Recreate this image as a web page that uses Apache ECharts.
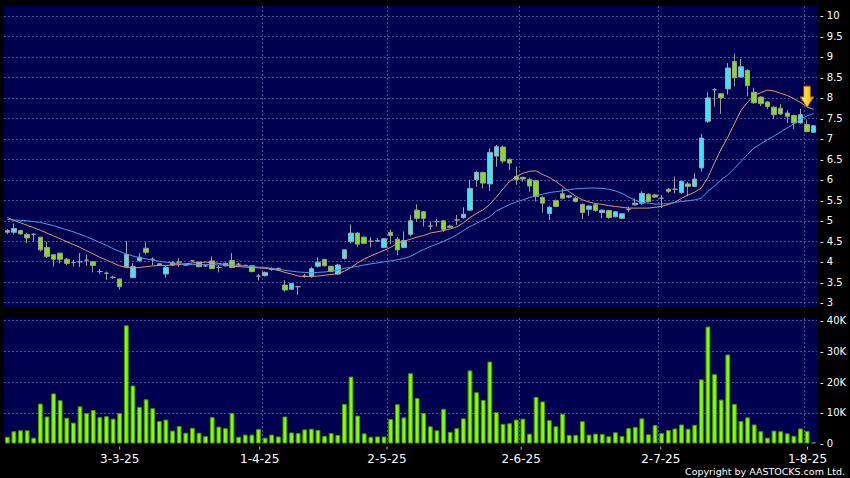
<!DOCTYPE html>
<html><head><meta charset="utf-8">
<script src="https://cdn.jsdelivr.net/npm/echarts@6.0.0/dist/echarts.min.js"></script>
<style>html,body{margin:0;padding:0;background:#000;}#c{width:850px;height:478px;}</style>
</head><body><div id="c"></div>
<script>
// ---------- DATA ----------
const dates = ['5-2-25','6-2-25','7-2-25','10-2-25','11-2-25','12-2-25','13-2-25','14-2-25','17-2-25','18-2-25','19-2-25','20-2-25','21-2-25','24-2-25','25-2-25','26-2-25','27-2-25','28-2-25',
'3-3-25','4-3-25','5-3-25','6-3-25','7-3-25','10-3-25','11-3-25','12-3-25','13-3-25','14-3-25','17-3-25','18-3-25','19-3-25','20-3-25','21-3-25','24-3-25','25-3-25','26-3-25','27-3-25','28-3-25','31-3-25',
'1-4-25','2-4-25','3-4-25','7-4-25','8-4-25','9-4-25','10-4-25','11-4-25','14-4-25','15-4-25','16-4-25','17-4-25','22-4-25','23-4-25','24-4-25','25-4-25','28-4-25','29-4-25','30-4-25',
'2-5-25','6-5-25','7-5-25','8-5-25','9-5-25','12-5-25','13-5-25','14-5-25','15-5-25','16-5-25','19-5-25','20-5-25','21-5-25','22-5-25','23-5-25','26-5-25','27-5-25','28-5-25','29-5-25','30-5-25',
'2-6-25','3-6-25','4-6-25','5-6-25','6-6-25','9-6-25','10-6-25','11-6-25','12-6-25','13-6-25','16-6-25','17-6-25','18-6-25','19-6-25','20-6-25','23-6-25','24-6-25','25-6-25','26-6-25','27-6-25','30-6-25',
'2-7-25','3-7-25','4-7-25','7-7-25','8-7-25','9-7-25','10-7-25','11-7-25','14-7-25','15-7-25','16-7-25','17-7-25','18-7-25','21-7-25','22-7-25','23-7-25','24-7-25','25-7-25','28-7-25','29-7-25','30-7-25','31-7-25',
'1-8-25','4-8-25'];

const tickLabels = ['3-3-25','1-4-25','2-5-25','2-6-25','2-7-25','1-8-25'];

const opens = [4.76,4.72,4.76,4.67,4.67,4.60,4.35,4.17,4.21,4.06,
3.98,4.00,4.04,4.00,3.76,3.72,3.62,3.58,3.88,3.61,
4.03,4.33,4.06,3.95,3.70,3.98,3.99,3.92,4.02,3.99,
3.90,4.02,3.86,3.90,4.03,3.94,3.91,3.90,3.65,3.66,
3.82,3.84,3.43,3.33,3.39,3.65,3.65,3.89,4.06,3.89,
3.70,4.08,4.49,4.70,4.60,4.50,4.52,4.35,4.72,4.55,
4.35,4.67,5.26,5.22,4.87,4.98,5.00,4.87,5.02,5.08,
5.26,6.00,6.18,5.90,6.58,6.80,6.50,6.08,6.06,6.01,
5.98,5.57,5.18,5.49,5.66,5.58,5.55,5.40,5.28,5.39,
5.20,5.25,5.10,5.06,5.28,5.39,5.43,5.65,5.63,5.55,
5.77,5.77,5.69,5.90,5.84,6.29,7.43,8.20,8.10,8.22,
8.89,8.51,8.67,8.14,8.02,7.90,7.77,7.75,7.63,7.57,
7.39,7.35,7.16];

const closes = [4.72,4.81,4.68,4.58,4.67,4.29,4.13,4.06,4.06,3.96,
3.98,4.00,4.04,3.91,3.76,3.72,3.62,3.39,4.18,3.88,
4.11,4.23,4.06,3.92,3.86,3.92,3.99,3.92,4.02,3.88,
3.90,3.83,3.86,3.96,3.86,3.94,3.91,3.76,3.65,3.74,
3.82,3.80,3.31,3.47,3.39,3.65,3.83,3.99,3.90,3.76,
3.92,4.29,4.70,4.43,4.45,4.50,4.50,4.56,4.64,4.29,
4.52,5.00,5.06,5.06,4.87,4.98,4.79,4.84,5.02,5.16,
5.79,6.18,5.92,6.67,6.81,6.46,6.41,6.00,6.02,5.85,
5.59,5.43,5.33,5.35,5.55,5.61,5.47,5.20,5.36,5.25,
5.26,5.08,5.22,5.17,5.28,5.43,5.67,5.47,5.58,5.55,
5.72,5.77,5.96,5.84,6.02,7.02,8.00,8.20,8.00,8.73,
8.49,8.76,8.30,7.88,7.86,7.79,7.59,7.61,7.55,7.39,
7.59,7.18,7.32];

const lows = [4.67,4.67,4.66,4.45,4.49,4.25,4.09,3.88,3.96,3.92,
3.88,3.87,3.90,3.74,3.70,3.56,3.58,3.32,3.84,3.61,
4.00,4.18,3.92,3.90,3.61,3.90,3.88,3.90,4.00,3.86,
3.87,3.83,3.74,3.88,3.84,3.87,3.89,3.74,3.54,3.64,
3.78,3.78,3.27,3.31,3.19,3.61,3.61,3.86,3.89,3.75,
3.68,4.05,4.45,4.36,4.43,4.35,4.48,4.33,4.43,4.16,
4.35,4.62,4.98,4.86,4.78,4.86,4.73,4.82,4.90,5.05,
5.24,5.83,5.79,5.73,6.32,6.40,6.24,5.88,5.95,5.71,
5.47,5.20,5.02,5.33,5.52,5.55,5.45,5.04,5.12,5.22,
5.06,5.05,5.08,5.04,5.22,5.37,5.39,5.45,5.55,5.31,
5.68,5.67,5.65,5.60,5.82,6.20,7.39,7.79,7.61,8.08,
8.28,8.49,8.04,7.86,7.80,7.73,7.48,7.58,7.39,7.24,
7.37,7.16,7.15];

const highs = [4.80,4.93,4.78,4.70,4.70,4.60,4.49,4.18,4.22,4.09,
4.05,4.21,4.17,4.00,3.82,3.76,3.66,3.58,4.51,3.96,
4.21,4.48,4.11,3.97,3.90,4.02,4.09,3.95,4.04,4.00,
3.93,4.13,3.92,3.98,4.21,3.98,3.93,3.91,3.70,3.76,
3.86,3.86,3.55,3.48,3.41,3.70,3.87,4.11,4.06,3.90,
3.95,4.31,4.91,4.72,4.62,4.60,4.58,4.58,4.79,4.60,
4.74,5.14,5.40,5.24,4.98,5.04,5.02,4.90,5.14,5.33,
6.00,6.22,6.20,6.77,6.85,6.84,6.52,6.32,6.08,6.05,
6.00,5.60,5.36,5.52,5.79,5.63,5.58,5.42,5.38,5.42,
5.28,5.27,5.24,5.19,5.34,5.55,5.72,5.67,5.66,5.63,
5.80,6.08,5.98,5.95,6.16,7.12,8.14,8.24,8.12,8.85,
9.08,8.95,8.70,8.25,8.04,7.92,7.80,7.85,7.70,7.59,
7.73,7.47,7.34];

const volumes = [2200,4000,4300,4300,1900,13000,8800,16300,14100,8400,
6800,12100,9900,10900,8600,8900,8100,9900,38500,18900,
11900,14400,11500,7300,7800,4200,5700,3500,5100,3500,
2400,8600,5500,5000,10000,2200,2900,2900,4700,1900,
2900,2300,8800,3600,3400,4600,4800,4400,2500,3400,
2800,12900,21800,9100,3300,2200,2300,2300,8000,12800,
8500,22900,14800,10000,5600,4300,11300,3800,5000,8200,
23800,16700,14200,26700,10200,6400,6600,7800,8100,3200,
15200,13700,7600,5600,9700,2800,2800,7300,2900,3200,
3100,2350,3650,2400,5000,5400,8200,3000,6000,3400,
4400,4900,6200,4800,6100,20900,38100,22600,14300,29000,
12900,7300,8500,6200,4000,1900,4200,4000,3300,2500,
4900,4100,400];

const maShort = [5.08,5.01,4.95,4.89,4.83,4.77,4.70,4.63,4.56,4.49,
4.42,4.35,4.27,4.19,4.11,4.04,3.97,3.90,3.86,3.85,
3.86,3.88,3.90,3.91,3.91,3.92,3.93,3.95,3.97,3.98,
3.99,3.98,3.96,3.93,3.89,3.88,3.87,3.86,3.85,3.84,
3.82,3.79,3.74,3.70,3.65,3.64,3.64,3.65,3.67,3.69,
3.71,3.77,3.86,3.97,4.07,4.14,4.21,4.28,4.35,4.45,
4.50,4.55,4.60,4.64,4.70,4.73,4.76,4.80,4.85,4.95,
5.08,5.18,5.27,5.40,5.58,5.78,5.96,6.08,6.16,6.21,
6.22,6.13,6.06,5.96,5.84,5.71,5.60,5.51,5.46,5.42,
5.40,5.37,5.35,5.33,5.31,5.31,5.31,5.31,5.33,5.35,
5.40,5.45,5.55,5.63,5.70,5.80,6.06,6.42,6.75,7.04,
7.37,7.69,7.90,8.06,8.13,8.19,8.17,8.11,8.06,7.98,
7.89,7.78,7.72];

const maLong = [5.03,5.02,5.01,5.00,4.98,4.96,4.92,4.88,4.83,4.78,
4.73,4.67,4.61,4.54,4.47,4.40,4.32,4.25,4.19,4.14,
4.10,4.07,4.04,4.01,3.99,3.97,3.95,3.94,3.93,3.93,
3.93,3.93,3.92,3.92,3.92,3.91,3.90,3.88,3.87,3.86,
3.84,3.82,3.79,3.77,3.75,3.74,3.73,3.74,3.75,3.77,
3.79,3.84,3.86,3.89,3.92,3.95,3.97,4.00,4.02,4.05,
4.08,4.13,4.22,4.30,4.37,4.43,4.50,4.57,4.66,4.76,
4.86,4.94,5.02,5.10,5.24,5.32,5.40,5.46,5.51,5.57,
5.61,5.65,5.69,5.71,5.73,5.76,5.78,5.79,5.80,5.80,
5.79,5.77,5.73,5.67,5.58,5.50,5.45,5.43,5.41,5.41,
5.42,5.45,5.47,5.49,5.51,5.55,5.72,5.85,6.00,6.12,
6.28,6.45,6.62,6.78,6.88,6.98,7.07,7.17,7.27,7.37,
7.48,7.56,7.62];

const arrowDate = '1-8-25';
const arrowPrice = 7.77;

// ---------- STYLE ----------
const FONT = 'DejaVu Sans';
const GRID_BG = '#000050';
const DASH = {color: '#4e4e96', type: [2, 2], width: 1};
const labelShift = [-6.6, -5.4, -3.7, -1.7, -0.9, 0.4];

const isTick = (i, v) => tickLabels.indexOf(v) >= 0;

const rich = {
  tk: {width: 1, height: 3, lineHeight: 3, backgroundColor: '#b4b4b4'},
  lb: {fontSize: 12, fontFamily: FONT, color: '#ffffff', lineHeight: 18}
};
labelShift.forEach((s, k) => { rich['sp' + k] = {width: Math.abs(2 * s), height: 3, lineHeight: 3}; });

const candleData = dates.map((d, i) => {
  const item = {value: [opens[i], closes[i], lows[i], highs[i]]};
  if (opens[i] === closes[i]) item.itemStyle = {borderColor: '#a0a0a0', borderColor0: '#a0a0a0'};
  return item;
});

const chart = echarts.init(document.getElementById('c'), null, {renderer: 'svg', width: 850, height: 478});

chart.setOption({
  backgroundColor: '#000000',
  animation: false,
  grid: [
    {left: 4, top: 6, width: 813, height: 301, show: true, backgroundColor: GRID_BG, borderWidth: 0, outerBoundsMode: 'none'},
    {left: 4, top: 318, width: 813, height: 125.5, show: true, backgroundColor: GRID_BG, borderWidth: 0, outerBoundsMode: 'none'}
  ],
  xAxis: [
    {type: 'category', gridIndex: 0, data: dates, boundaryGap: true,
     axisLine: {show: false}, axisTick: {show: false}, axisLabel: {show: false},
     splitLine: {show: true, interval: isTick, lineStyle: DASH, showMinLine: false, showMaxLine: false}},
    {type: 'category', gridIndex: 1, data: dates, boundaryGap: true,
     axisLine: {show: false}, axisTick: {show: false},
     axisLabel: {show: true, interval: isTick, margin: 3, color: '#ffffff', fontFamily: FONT, fontSize: 12,
       formatter: (v) => {
         const k = tickLabels.indexOf(v);
         const sp = '{sp' + k + '|}';
         return labelShift[k] < 0
           ? '{tk|}' + sp + '\n{lb|' + v + '}' + sp
           : sp + '{tk|}\n' + sp + '{lb|' + v + '}';
       },
       rich: rich},
     splitLine: {show: true, interval: isTick, lineStyle: DASH, showMinLine: false, showMaxLine: false}}
  ],
  yAxis: [
    {type: 'value', gridIndex: 0, position: 'right', min: 2.895, max: 10.244, splitNumber: 15,
     minInterval: 0.5, maxInterval: 0.5, scale: true,
     axisLine: {show: false}, axisTick: {show: false},
     axisLabel: {formatter: (v) => '- ' + v, color: '#ffffff', fontFamily: FONT, fontSize: 10, margin: 3,
                 showMinLabel: false, showMaxLabel: false},
     splitLine: {show: true, lineStyle: DASH, showMinLine: false, showMaxLine: false}},
    {type: 'value', gridIndex: 1, position: 'right', min: 0, max: 40880, splitNumber: 4,
     minInterval: 10000, maxInterval: 10000,
     axisLine: {show: false}, axisTick: {show: false},
     axisLabel: {formatter: (v) => v === 0 ? '- 0' : '- ' + (v / 1000) + 'K', color: '#ffffff',
                 fontFamily: FONT, fontSize: 10, margin: 3, showMinLabel: true, showMaxLabel: false},
     splitLine: {show: true, lineStyle: DASH, showMinLine: false, showMaxLine: false}}
  ],
  series: [
    {type: 'candlestick', xAxisIndex: 0, yAxisIndex: 0, barWidth: 5, data: candleData, z: 2,
     itemStyle: {color: '#3fe3f2', color0: '#7fe022', borderColor: '#9aa6aa', borderColor0: '#98a088',
                 borderColorDoji: '#a0a0a0', borderWidth: 1},
     markPoint: {
       silent: true,
       data: [{
         coord: [arrowDate, arrowPrice],
         symbol: 'path://M3.3,0 L9.7,0 L9.7,10.7 L13,10.7 L6.5,21 L0,10.7 L3.3,10.7 Z',
         symbolSize: [13, 21], symbolOffset: [0, '-50%'],
         itemStyle: {color: {type: 'linear', x: 0, y: 0, x2: 1, y2: 0,
                      colorStops: [{offset: 0, color: '#fff27a'}, {offset: 0.55, color: '#ffd21f'}, {offset: 1, color: '#e89a00'}]},
                     borderColor: '#b87800', borderWidth: 0.8},
         label: {show: false}
       }]
     }},
    {type: 'line', xAxisIndex: 0, yAxisIndex: 0, data: maShort, symbol: 'none', z: 3,
     lineStyle: {color: '#e8946a', width: 1}},
    {type: 'line', xAxisIndex: 0, yAxisIndex: 0, data: maLong, symbol: 'none', z: 3,
     lineStyle: {color: '#449fe6', width: 1}},
    {type: 'bar', xAxisIndex: 1, yAxisIndex: 1, data: volumes, barWidth: 4.8,
     itemStyle: {color: '#80ff00', borderColor: '#4a9400', borderWidth: 1}}
  ],
  graphic: [
    {type: 'text', right: 5, top: 466,
     style: {text: 'Copyright by AASTOCKS.com Ltd.', fill: '#ffffff', fontFamily: FONT, fontSize: 9.5}}
  ]
});
</script>
</body></html>
